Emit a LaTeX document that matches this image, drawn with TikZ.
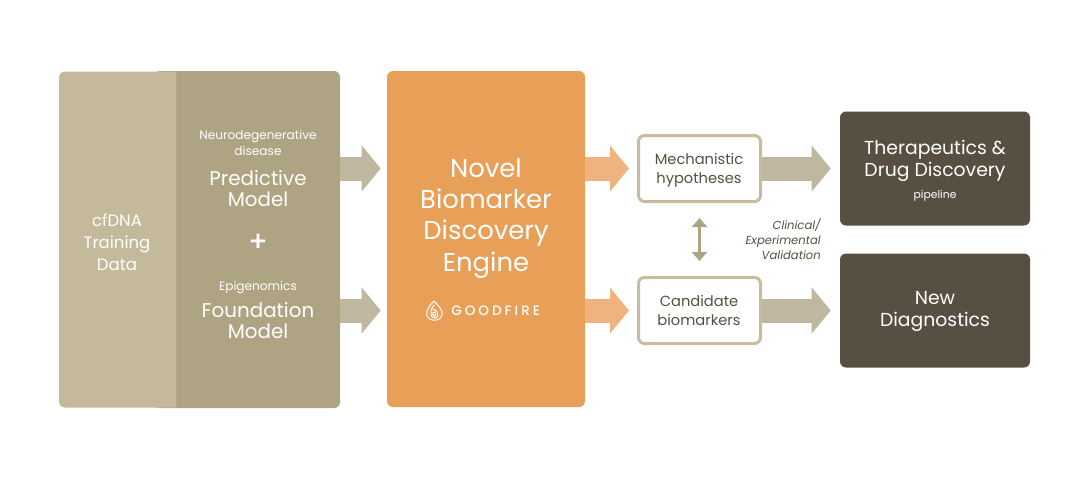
\documentclass[tikz,border=0pt]{standalone}
\usepackage{fontspec}
\usetikzlibrary{arrows.meta}
\setmainfont{Poppins}
\newfontfamily\mediumfont{Poppins Medium}
\newcommand{\px}{0.75pt}
\definecolor{datatan}{HTML}{C4B99A}
\definecolor{modeltan}{HTML}{AEA382}
\definecolor{arrowtan}{HTML}{BFB79F}
\definecolor{framebrown}{HTML}{C8BC9E}
\definecolor{engineorange}{HTML}{E89F58}
\definecolor{arroworange}{HTML}{F0B27E}
\definecolor{darkbrown}{HTML}{575042}
\tikzset{x=\px, y=-\px,
  panel/.style={rectangle, rounded corners=6*\px, inner sep=0pt},
  outcome/.style={panel, fill=darkbrown, minimum width=190*\px, minimum height=114*\px},
  lead/.style={panel, fill=white, draw=framebrown, line width=3*\px,
    minimum width=122*\px, minimum height=66*\px},
  blockarrow/.style={line width=24*\px, draw=arrowtan,
    -{Triangle[length=19*\px, width=45*\px, color=arrowtan]}},
  hotarrow/.style={blockarrow, draw=arroworange,
    -{Triangle[length=19*\px, width=45*\px, color=arroworange]}},
  smalltext/.style={inner sep=0pt, text=white, align=center, font=\fontsize{9.1}{11.6}\selectfont},
  bigtext/.style={inner sep=0pt, text=white, align=center, font=\fontsize{14.9}{16}\selectfont},
  leadtext/.style={inner sep=0pt, text=darkbrown, align=center, font=\fontsize{11}{14.4}\selectfont},
  outtext/.style={inner sep=0pt, text=white, align=center, font=\fontsize{14.1}{16.8}\selectfont}
}
\begin{document}
\begin{tikzpicture}
\useasboundingbox (0,0) rectangle (1092,480);
% left block
\node (model) [panel, fill=modeltan, minimum width=186*\px, minimum height=337*\px] at (247,239.5) {};
\fill[datatan] (176,71.5) {[rounded corners=6*\px] -- (59,71.5) -- (59,407.5)} -- (176,407.5) -- cycle;
\node (trainingdata) [bigtext, font=\fontsize{12.4}{16.4}\selectfont] at (117,242) {cfDNA\\Training\\Data};
\node (neuro) [smalltext] at (258,143) {Neurodegenerative\\disease};
\node (predictive) [bigtext] at (258,188.5) {Predictive\\Model};
\node (plus) [bigtext, font=\mediumfont\fontsize{21}{21}\selectfont] at (258,243) {+};
\node (epi) [smalltext] at (258,287.5) {Epigenomics};
\node (foundation) [bigtext] at (258,320.5) {Foundation\\Model};
% engine
\node (engine) [panel, fill=engineorange, minimum width=198*\px, minimum height=336*\px] at (486,239) {};
\node (enginetext) [inner sep=0pt, text=white, align=center, font=\fontsize{19.4}{23.5}\selectfont] at (486,218) {Novel\\Biomarker\\Discovery\\Engine};
\node (goodfire) [inner sep=0pt, text=white, anchor=west, font=\mediumfont\fontsize{10.2}{12}\selectfont\addfontfeature{LetterSpace=22}] at (451,311) {GOODFIRE};
\begin{scope}[draw=white, line width=1*\px, line cap=round]
\draw (434,301) .. controls (428,307) and (426,311) .. (427,315) .. controls (428,322) and (440,322) .. (442,315) .. controls (443,311) and (440,307) .. (434,301);
\draw (434,305) .. controls (431,309) and (430,312) .. (431,315) .. controls (432,319) and (437,319) .. (438,315) .. controls (438,312) and (436,310) .. (433,309);
\draw (434,312) .. controls (432,312) and (432,316) .. (435,316) .. controls (436,315) and (436,313) .. (434,312);
\end{scope}
% middle and right
\node (mech) [lead] at (699.5,168.5) {};
\node (cand) [lead] at (699.5,310.5) {};
\node (mechtext) [leadtext] at (699,170) {Mechanistic\\hypotheses};
\node (candtext) [leadtext] at (699,310.5) {Candidate\\biomarkers};
\node (thera) [outcome] at (935,168.5) {};
\node (diag) [outcome] at (935,310.5) {};
\node (theratext) [outtext] at (935,161) {Therapeutics \&\\Drug Discovery};
\node (pipeline) [inner sep=0pt, text=white, font=\fontsize{8.1}{9}\selectfont] at (935,195.5) {pipeline};
\node (diagtext) [outtext] at (935,311.5) {New\\Diagnostics};
\node (valid) [inner sep=0pt, text=darkbrown, align=right, anchor=east, font=\fontsize{8.7}{11.2}\itshape\selectfont] at (821,239.5) {Clinical/\\Experimental\\Validation};
% arrows
\draw[blockarrow, shorten >=6*\px] (model.east |- mech) -- (engine.west |- mech);
\draw[blockarrow, shorten >=6*\px] (model.east |- cand) -- (engine.west |- cand);
\draw[hotarrow, shorten >=8*\px] (engine.east |- mech) -- (mech.west);
\draw[hotarrow, shorten >=8*\px] (engine.east |- cand) -- (cand.west);
\draw[blockarrow, shorten >=9*\px] (mech) -- (thera);
\draw[blockarrow, shorten >=9*\px] (cand) -- (diag);
\draw[line width=3.5*\px, draw=modeltan, {Triangle[length=9*\px, width=15*\px]}-{Triangle[length=9*\px, width=15*\px]}, shorten <=15*\px, shorten >=15*\px] (mech) -- (cand);
\end{tikzpicture}
\end{document}
